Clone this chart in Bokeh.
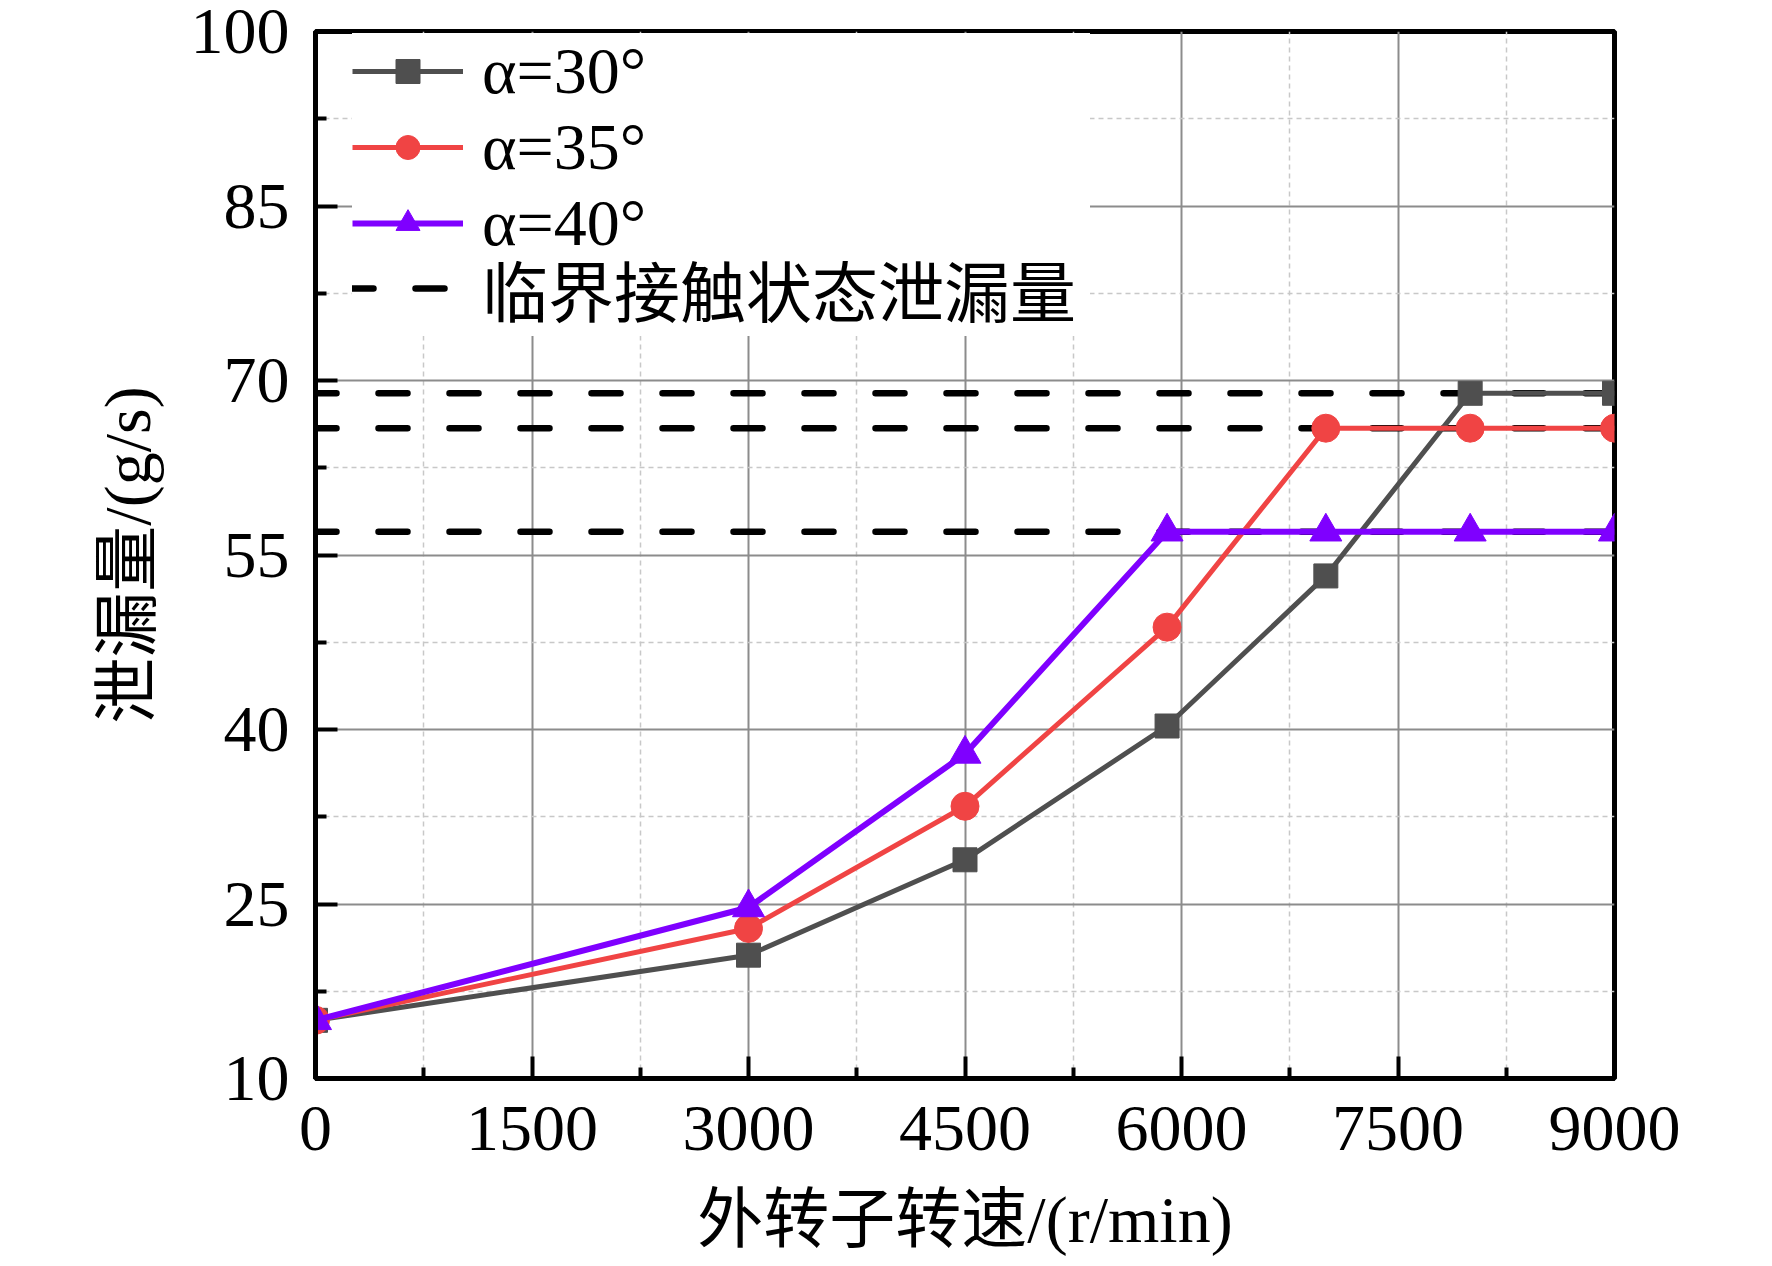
from bokeh.plotting import figure
from bokeh.models import FixedTicker, Legend, LegendItem, Range1d
from bokeh.embed import file_html
from bokeh.resources import INLINE

# ---- data ----
speed = [0, 3000, 4500, 5900, 7000, 8000, 9000]
leak_30 = [15.0, 20.6, 28.8, 40.3, 53.2, 68.9, 68.9]
leak_35 = [15.0, 22.9, 33.4, 48.8, 65.9, 65.9, 65.9]
leak_40 = [15.0, 24.7, 37.9, 57.0, 57.0, 57.0, 57.0]
critical_leak = [68.9, 65.9, 57.0]
series_labels = ["α=30°", "α=35°", "α=40°"]
critical_label = "临界接触状态泄漏量"
x_ticks = [0, 1500, 3000, 4500, 6000, 7500, 9000]
x_minor = [750, 2250, 3750, 5250, 6750, 8250]
y_ticks = [10, 25, 40, 55, 70, 85, 100]
y_minor = [17.5, 32.5, 47.5, 62.5, 77.5, 92.5]
x_label = "外转子转速/(r/min)"
y_label = "泄漏量/(g/s)"

FONT = "Liberation Serif, Noto Sans CJK SC"
FS = "66px"

p = figure(width=1756, height=1258,
           x_range=Range1d(x_ticks[0], x_ticks[-1]),
           y_range=Range1d(y_ticks[0], y_ticks[-1]),
           output_backend="svg", toolbar_location=None,
           min_border_left=315, min_border_right=142,
           min_border_top=31, min_border_bottom=163)
p.background_fill_color = "white"
p.border_fill_color = "white"
p.outline_line_color = "black"
p.outline_line_width = 5

for ax, maj, mnr in ((p.xaxis, x_ticks, x_minor), (p.yaxis, y_ticks, y_minor)):
    ax.ticker = FixedTicker(ticks=maj, minor_ticks=mnr)
    ax.axis_line_width = 5
    ax.axis_line_color = "black"
    ax.major_tick_in = 22
    ax.major_tick_out = 0
    ax.minor_tick_in = 11
    ax.minor_tick_out = 0
    ax.major_tick_line_width = 4
    ax.minor_tick_line_width = 4
    ax.major_tick_line_color = "black"
    ax.minor_tick_line_color = "black"
    ax.major_label_text_font = FONT
    ax.major_label_text_font_size = FS
    ax.major_label_text_color = "black"
    ax.axis_label_text_font = FONT
    ax.axis_label_text_font_size = FS
    ax.axis_label_text_font_style = "normal"
    ax.axis_label_text_color = "black"

p.xaxis.axis_label = x_label
p.yaxis.axis_label = y_label
p.xaxis.major_label_standoff = 28
p.yaxis.major_label_standoff = 26
p.xaxis.axis_label_standoff = 30
p.yaxis.axis_label_standoff = 24

for g in (p.xgrid, p.ygrid):
    g.grid_line_color = "#8c8c8c"
    g.grid_line_width = 2
    g.minor_grid_line_color = "#c8c8c8"
    g.minor_grid_line_width = 1.5
    g.minor_grid_line_dash = "5 4"

# critical-contact leakage (dashed, under the series)
crit_renderers = []
for val in critical_leak:
    r = p.line(x=[speed[0], speed[-1]], y=[val, val], line_color="black",
               line_width=6.5, line_dash="29 42", line_dash_offset=8,
               line_cap="round")
    crit_renderers.append(r)

series = [
    (leak_30, "#4f4f4f", "square", 24, 5),
    (leak_35, "#f04444", "circle", 28, 5),
    (leak_40, "#7f00ff", "triangle", 32, 6),
]
items = []
for (vals, col, mk, sz, lw), lab in zip(series, series_labels):
    rl = p.line(speed, vals, line_color=col, line_width=lw)
    rm = p.scatter(speed, vals, marker=mk, size=sz, fill_color=col, line_color=col)
    items.append(LegendItem(label=lab, renderers=[rl, rm]))
crit_item = LegendItem(label=critical_label, renderers=[crit_renderers[0]])


def style_legend(lg):
    lg.margin = 0
    lg.padding = 1
    lg.spacing = 0
    lg.glyph_width = 111
    lg.glyph_height = 60
    lg.label_standoff = 19
    lg.label_width = 608
    lg.label_text_font = FONT
    lg.label_text_font_size = FS
    lg.label_text_color = "black"
    lg.border_line_color = None
    lg.background_fill_color = "white"
    lg.background_fill_alpha = 1.0


legend_crit = Legend(items=[crit_item], location=(37, 742))
style_legend(legend_crit)
legend_alpha = Legend(items=items, location=(37, 817))
style_legend(legend_alpha)
p.add_layout(legend_crit)
p.add_layout(legend_alpha)

open("out.html", "w").write(file_html(p, INLINE))
